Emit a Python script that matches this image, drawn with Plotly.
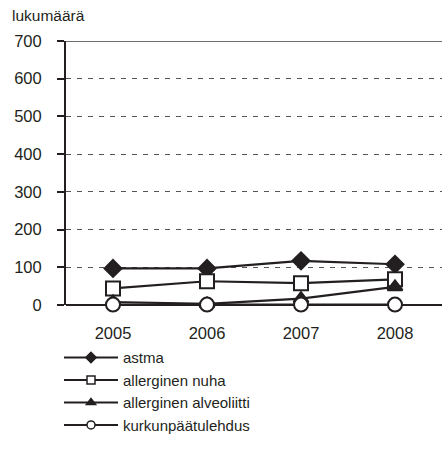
import plotly.graph_objs as go

years = [2005, 2006, 2007, 2008]
series_names = ["astma", "allerginen nuha", "allerginen alveoliitti", "kurkunpäätulehdus"]
astma = [97, 97, 117, 108]
nuha = [44, 63, 58, 68]
alveoliitti = [8, 3, 17, 48]
kurkunpaa = [1, 1, 1, 1]
y_ticks = [0, 100, 200, 300, 400, 500, 600, 700]

INK = "#231f20"
FONT = "Liberation Sans, Arial, sans-serif"


def create_graph():
    fig = go.Figure()

    # marker style per series: symbol, fill, size in plot, size in legend
    styles = [
        ("diamond", INK, 13, 8),
        ("square", "white", 14, 8),
        ("triangle-up", INK, 13, 8),
        ("circle", "white", 14, 8),
    ]
    values = [astma, nuha, alveoliitti, kurkunpaa]

    for name, vals, (symbol, fill, size, _) in zip(series_names, values, styles):
        fig.add_trace(
            go.Scatter(
                name=name,
                x=years,
                y=vals,
                mode="lines+markers",
                line=dict(color=INK, width=2.2),
                marker=dict(symbol=symbol, size=size, color=fill,
                            line=dict(color=INK, width=2)),
                cliponaxis=False,
                showlegend=False,
            )
        )

    # legend entries with the small markers of the original
    for name, (symbol, fill, _, lsize) in zip(series_names, styles):
        fig.add_trace(
            go.Scatter(
                name=name,
                x=[None],
                y=[None],
                mode="lines+markers",
                line=dict(color=INK, width=2),
                marker=dict(symbol=symbol, size=lsize, color=fill,
                            line=dict(color=INK, width=1.5)),
            )
        )

    # solid top border line at 700
    fig.add_shape(type="line", xref="paper", yref="y", x0=0, x1=1, y0=700, y1=700,
                  line=dict(color="#6d6d6d", width=2))

    layout = go.Layout(
        width=442,
        height=460,
        margin=dict(l=66, r=0, t=41, b=155, autoexpand=False),
        paper_bgcolor="white",
        plot_bgcolor="white",
        font=dict(family=FONT, size=16, color=INK),
        showlegend=True,
        title=dict(text="lukumäärä", x=12 / 442, xanchor="left", xref="container",
                   y=1 - 10 / 460, yanchor="top", yref="container",
                   font=dict(size=15.5, color=INK)),
        xaxis=dict(
            range=[2004.5, 2008.5],
            tickvals=years,
            showgrid=False,
            zeroline=False,
            showline=False,
            ticks="",
            ticklabelstandoff=16,
            tickfont=dict(size=16.5),
        ),
        yaxis=dict(
            range=[0, 700],
            tickvals=y_ticks,
            showgrid=True,
            gridcolor="#555555",
            griddash="5px,6px",
            gridwidth=1,
            zeroline=True,
            zerolinecolor=INK,
            zerolinewidth=2,
            showline=True,
            linecolor=INK,
            linewidth=2,
            ticks="outside",
            ticklen=7,
            tickcolor=INK,
            tickwidth=1.5,
            ticklabelstandoff=12,
            tickfont=dict(size=16.5),
        ),
        legend=dict(
            x=-7 / 376,
            xanchor="left",
            y=-0.137,
            yanchor="top",
            itemwidth=54,
            font=dict(size=15, color=INK),
            tracegroupgap=4,
            bgcolor="rgba(0,0,0,0)",
        ),
    )
    fig.update_layout(layout)
    return fig


fig = create_graph()
# the page's default body margin would push the figure off the window
fig.write_html("out.html", config={"displayModeBar": False},
               post_script="document.body.style.margin='0';")
